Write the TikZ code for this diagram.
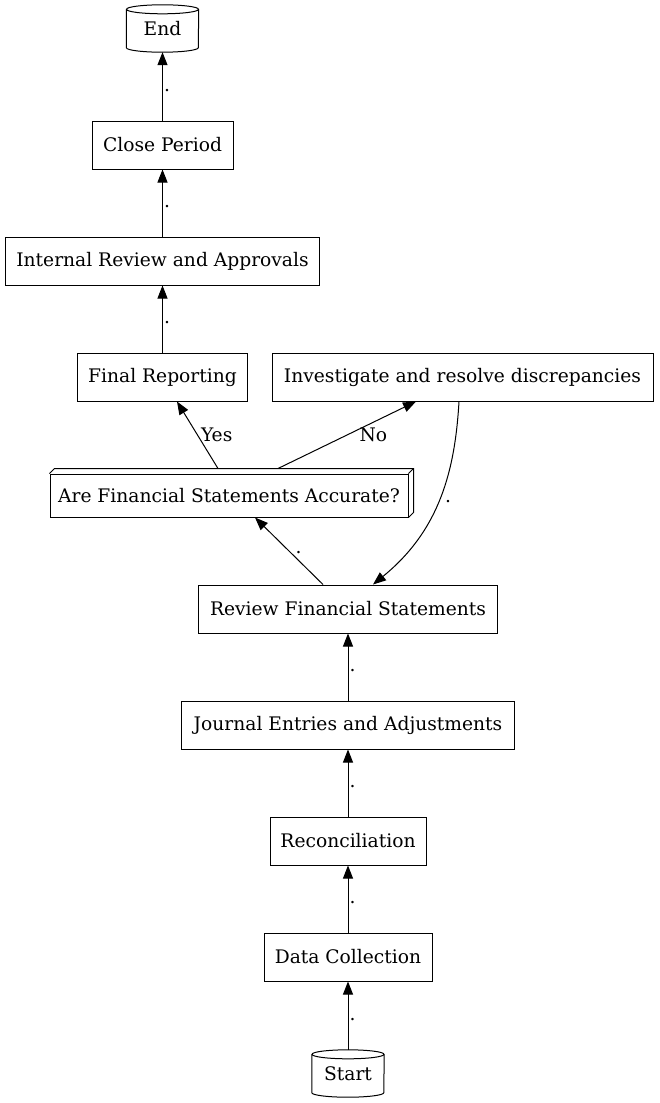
\documentclass[tikz,border=0pt]{standalone}
\usepackage{fontspec}
\setmainfont{DejaVu Serif}
\usetikzlibrary{arrows.meta}
\begin{document}
\begin{tikzpicture}[x=1pt,y=1pt, font=\fontsize{18.67}{22}\selectfont,
  box/.style={draw, line width=1pt, inner sep=0pt, minimum height=48pt},
  cyl/.style={inner sep=0pt, minimum width=72pt, minimum height=47pt},
  outl/.style={line width=1pt},
  arr/.style={line width=1pt, -{Triangle[length=13pt,width=10pt]}},
  lbl/.style={inner sep=0pt, anchor=west}]
\useasboundingbox (0,0) rectangle (659,-1103);
% nodes
\node[cyl] (end) at (162.5,-28.5) {End};
\node[box, minimum width=141pt] (close) at (162.5,-145) {Close Period};
\node[box, minimum width=314pt] (internal) at (162.5,-261) {Internal Review and Approvals};
\node[box, minimum width=170pt] (final) at (162.5,-377) {Final Reporting};
\node[box, minimum width=381pt] (inv) at (462.5,-377) {Investigate and resolve discrepancies};
\node[box, minimum width=358pt, minimum height=43pt] (dec) at (229,-495.5) {Are Financial Statements Accurate?};
\node[box, minimum width=299pt] (review) at (348,-609) {Review Financial Statements};
\node[box, minimum width=333pt] (journal) at (348,-725) {Journal Entries and Adjustments};
\node[box, minimum width=156pt] (recon) at (348,-841) {Reconciliation};
\node[box, minimum width=168pt] (data) at (348,-957) {Data Collection};
\node[cyl] (start) at (348,-1073.5) {Start};
% cylinder outlines
\foreach \c in {end,start}{
  \draw[outl] ([yshift=-4.5pt]\c.north) ellipse [x radius=36pt, y radius=4.5pt];
  \draw[outl] ([yshift=-4.5pt]\c.north west) -- ([yshift=4.5pt]\c.south west)
    arc[start angle=180, end angle=360, x radius=36pt, y radius=4.5pt]
    -- ([yshift=-4.5pt]\c.north east);
}
% box3d depth
\draw[outl] (dec.north west) -- ++(5,5) -- ([shift={(5,5)}]dec.north east)
  -- ([shift={(5,5)}]dec.south east) -- (dec.south east);
\draw[outl] (dec.north east) -- ++(5,5);
% connectors
\draw[arr] (start.north) -- node[lbl, xshift=1pt, yshift=-4pt] {.} (data.south);
\draw[arr] (data.north) -- node[lbl, xshift=1pt, yshift=-4pt] {.} (recon.south);
\draw[arr] (recon.north) -- node[lbl, xshift=1pt, yshift=-4pt] {.} (journal.south);
\draw[arr] (journal.north) -- node[lbl, xshift=1pt, yshift=-4pt] {.} (review.south);
\draw[arr] ([xshift=-25pt]review.north) -- node[lbl, xshift=6pt, yshift=-2pt] {.} ([xshift=26pt]dec.south);
\draw[arr] ([xshift=-11pt,yshift=5pt]dec.north) -- node[lbl, xshift=3pt] {Yes} ([xshift=14.5pt]final.south);
\draw[arr] ([xshift=49pt,yshift=5pt]dec.north) -- node[lbl, xshift=12pt] {No} ([xshift=-46.5pt]inv.south);
\draw[arr] ([xshift=-3.5pt]inv.south) .. controls (455,-470) and (440,-530) .. node[lbl, xshift=5pt, yshift=-3pt] {.} ([xshift=25pt]review.north);
\draw[arr] (final.north) -- node[lbl, xshift=1pt, yshift=-4pt] {.} (internal.south);
\draw[arr] (internal.north) -- node[lbl, xshift=1pt, yshift=-4pt] {.} (close.south);
\draw[arr] (close.north) -- node[lbl, xshift=1pt, yshift=-4pt] {.} (end.south);
\end{tikzpicture}
\end{document}
